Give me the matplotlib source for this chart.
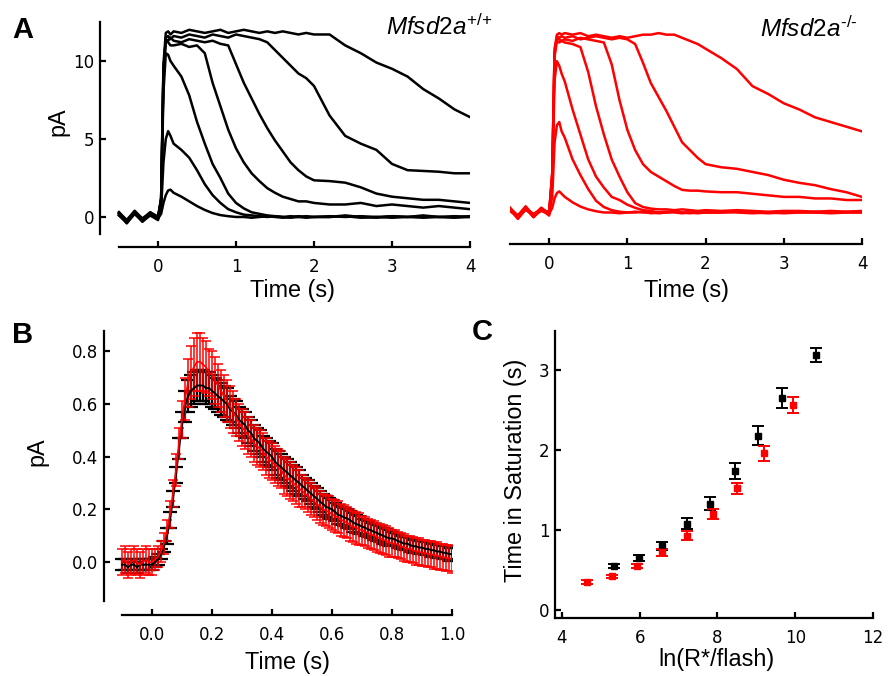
import matplotlib
matplotlib.use("Agg")
import matplotlib.pyplot as plt
import numpy as np

plt.rcParams['font.family'] = ['Liberation Sans', 'DejaVu Sans']
plt.rcParams['mathtext.fontset'] = 'custom'
plt.rcParams['mathtext.it'] = 'Liberation Sans:italic'
plt.rcParams['mathtext.rm'] = 'Liberation Sans'

# ---------------- Panel A: single-cell flash responses ----------------
t_a = [-0.5, -0.4, -0.3, -0.2, -0.1, 0.0, 0.04, 0.07, 0.1, 0.13, 0.16,
       0.2, 0.3, 0.4, 0.5, 0.6, 0.7, 0.8, 0.9, 1.0, 1.1, 1.2, 1.3, 1.4, 1.5,
       1.6, 1.7, 1.8, 1.9, 2.0, 2.2, 2.4, 2.6, 2.8, 3.0, 3.2, 3.4, 3.6, 3.8, 4.0]

wt_traces = [
    [0.2, -0.3, 0.3, -0.2, 0.2, -0.1, 0.2, 0.9, 1.4, 1.7, 1.75,
     1.55, 1.3, 1.0, 0.7, 0.45, 0.25, 0.12, 0.05, 0.0, 0.0, -0.05, 0.0, 0.05, 0.0,
     -0.05, 0.0, 0.05, 0.0, 0.0, 0.0, 0.05, -0.05, 0.0, 0.05, 0.0, -0.05, 0.0, 0.05, 0.0],
    [0.1, -0.4, 0.2, -0.3, 0.1, -0.2, 0.5, 3.5, 5.0, 5.5, 5.2,
     4.7, 4.3, 3.8, 3.0, 2.1, 1.4, 0.9, 0.5, 0.3, 0.15, 0.1, 0.05, 0.0, 0.05,
     0.0, -0.05, 0.0, 0.05, 0.0, 0.0, 0.1, 0.0, -0.05, 0.05, 0.0, 0.1, 0.0, -0.05, 0.0],
    [0.3, -0.2, 0.4, -0.1, 0.3, 0.0, 1.0, 8.0, 10.5, 10.4, 10.0,
     9.7, 9.0, 7.8, 6.1, 4.7, 3.4, 2.5, 1.5, 0.9, 0.55, 0.3, 0.2, 0.1, 0.05,
     0.0, 0.05, 0.0, -0.05, 0.0, 0.05, 0.0, 0.05, 0.0, -0.05, 0.0, 0.05, 0.0, 0.0, 0.05],
    [0.2, -0.2, 0.3, -0.3, 0.2, -0.1, 1.2, 9.5, 11.3, 11.2, 11.0,
     11.0, 11.1, 10.9, 11.0, 10.5, 8.6, 7.1, 5.6, 4.4, 3.5, 2.8, 2.3, 1.85, 1.55,
     1.3, 1.15, 1.0, 1.0, 0.9, 0.8, 0.8, 0.9, 0.7, 0.8, 0.7, 0.6, 0.7, 0.6, 0.5],
    [0.1, -0.3, 0.2, -0.2, 0.3, 0.0, 1.0, 9.0, 11.4, 11.3, 11.5,
     11.3, 11.2, 11.4, 11.3, 11.2, 11.3, 11.1, 11.0, 9.8, 8.6, 7.6, 6.6, 5.7, 4.9,
     4.2, 3.5, 3.0, 2.6, 2.35, 2.3, 2.2, 1.9, 1.5, 1.3, 1.2, 1.1, 1.1, 1.0, 0.9],
    [0.2, -0.4, 0.3, -0.2, 0.1, -0.1, 1.1, 9.3, 11.5, 11.6, 11.4,
     11.6, 11.5, 11.7, 11.6, 11.5, 11.7, 11.6, 11.5, 11.7, 11.6, 11.5, 11.4, 11.2, 10.7,
     10.2, 9.7, 9.2, 8.9, 8.4, 6.5, 5.2, 4.7, 4.3, 3.4, 3.0, 2.95, 2.9, 2.8, 2.8],
    [0.3, -0.3, 0.2, -0.1, 0.2, 0.0, 1.2, 9.8, 11.8, 11.9, 11.7,
     11.9, 11.8, 12.0, 11.9, 11.8, 11.9, 12.0, 11.8, 11.9, 12.0, 11.9, 11.8, 11.9, 11.8,
     11.9, 11.8, 11.7, 11.8, 11.7, 11.7, 11.0, 10.5, 9.9, 9.5, 9.0, 8.2, 7.6, 6.9, 6.4],
]

ko_traces = [
    [0.2, -0.3, 0.2, -0.2, 0.3, -0.1, 0.3, 0.9, 1.25, 1.35, 1.2,
     1.0, 0.65, 0.38, 0.2, 0.08, 0.0, 0.0, -0.05, 0.0, 0.0, 0.05, -0.05, 0.0, 0.0,
     0.05, 0.0, -0.05, 0.0, 0.0, 0.05, 0.0, -0.05, 0.0, 0.05, 0.0, 0.0, -0.05, 0.0, 0.05],
    [0.1, -0.2, 0.3, -0.3, 0.2, 0.0, 1.0, 4.5, 5.6, 5.8, 5.2,
     4.8, 3.4, 2.4, 1.5, 0.75, 0.35, 0.15, 0.05, 0.0, 0.05, 0.0, 0.0, -0.05, 0.0,
     0.05, 0.0, 0.0, -0.05, 0.0, 0.0, 0.05, 0.0, 0.0, -0.05, 0.0, 0.05, 0.0, 0.0, 0.0],
    [0.3, -0.4, 0.2, -0.1, 0.2, -0.2, 2.0, 8.5, 9.7, 9.4, 8.9,
     8.4, 6.6, 5.0, 3.4, 2.3, 1.6, 1.0, 0.8, 0.5, 0.3, 0.15, 0.1, 0.0, 0.05,
     0.0, -0.05, 0.0, 0.05, 0.0, 0.0, 0.05, 0.0, -0.05, 0.0, 0.05, 0.0, 0.0, 0.05, 0.0],
    [0.2, -0.2, 0.4, -0.2, 0.1, -0.1, 2.5, 10.0, 11.0, 10.9, 11.0,
     10.9, 10.8, 10.6, 9.0, 6.8, 5.0, 3.4, 2.3, 1.3, 0.6, 0.35, 0.25, 0.2, 0.2,
     0.15, 0.2, 0.15, 0.1, 0.15, 0.1, 0.15, 0.1, 0.05, 0.1, 0.1, 0.05, 0.1, 0.05, 0.1],
    [0.1, -0.3, 0.3, -0.3, 0.2, 0.0, 2.2, 10.2, 11.2, 11.1, 11.0,
     11.1, 11.0, 11.2, 11.1, 11.0, 10.9, 9.5, 7.2, 5.3, 4.0, 3.1, 2.6, 2.3, 2.0,
     1.7, 1.45, 1.4, 1.4, 1.35, 1.3, 1.3, 1.2, 1.1, 1.0, 1.0, 0.9, 0.9, 0.8, 0.8],
    [0.2, -0.4, 0.2, -0.2, 0.3, -0.1, 2.4, 10.3, 11.3, 11.2, 11.3,
     11.2, 11.3, 11.1, 11.2, 11.3, 11.2, 11.1, 11.2, 11.1, 10.8, 9.6, 8.3, 7.4, 6.5,
     5.5, 4.5, 4.0, 3.5, 3.1, 2.9, 2.8, 2.6, 2.4, 2.1, 1.9, 1.75, 1.5, 1.3, 1.0],
    [0.3, -0.2, 0.3, -0.1, 0.2, 0.0, 2.6, 10.5, 11.4, 11.5, 11.4,
     11.5, 11.4, 11.5, 11.3, 11.4, 11.3, 11.2, 11.3, 11.2, 11.3, 11.4, 11.4, 11.5, 11.4,
     11.4, 11.2, 11.0, 10.8, 10.5, 9.9, 9.2, 8.1, 7.6, 7.0, 6.6, 6.1, 5.8, 5.5, 5.2],
]

# ---------------- Panel B: mean dim-flash responses ----------------
t_b = np.round(np.arange(-0.10, 1.0001, 0.01), 2)

wt_mean = [
    -0.01, -0.01, -0.02, -0.01, -0.01, -0.02, -0.01, -0.01, -0.01, -0.01,
    -0.01, 0.00, 0.01, 0.03, 0.06, 0.10, 0.16, 0.24, 0.33, 0.43,
    0.52, 0.59, 0.63, 0.65, 0.66, 0.67, 0.67, 0.67, 0.66, 0.66,
    0.65, 0.64, 0.63, 0.62, 0.61, 0.60, 0.58, 0.57, 0.56, 0.54,
    0.53, 0.52, 0.50, 0.49, 0.47, 0.46, 0.45, 0.43, 0.42, 0.41,
    0.40, 0.38, 0.37, 0.36, 0.35, 0.34, 0.33, 0.32, 0.31, 0.30,
    0.29, 0.28, 0.27, 0.26, 0.25, 0.24, 0.23, 0.22, 0.21, 0.205,
    0.20, 0.19, 0.18, 0.175, 0.17, 0.165, 0.16, 0.15, 0.145, 0.14,
    0.135, 0.13, 0.125, 0.12, 0.115, 0.11, 0.105, 0.10, 0.095, 0.09,
    0.09, 0.085, 0.08, 0.075, 0.07, 0.07, 0.065, 0.06, 0.06, 0.055,
    0.055, 0.05, 0.05, 0.045, 0.045, 0.04, 0.04, 0.035, 0.035, 0.03,
    0.03,
]
wt_sem = [
    0.02, 0.02, 0.02, 0.02, 0.02, 0.02, 0.02, 0.02, 0.02, 0.02,
    0.02, 0.02, 0.02, 0.02, 0.02, 0.03, 0.03, 0.03, 0.03, 0.04,
    0.05, 0.06, 0.06, 0.06, 0.06, 0.06, 0.06, 0.06, 0.06, 0.06,
    0.06, 0.06, 0.06, 0.06, 0.06, 0.06, 0.05, 0.05, 0.05, 0.05,
    0.05, 0.05, 0.05, 0.05, 0.05, 0.05, 0.05, 0.05, 0.05, 0.05,
    0.05, 0.05, 0.05, 0.05, 0.05, 0.05, 0.05, 0.05, 0.05, 0.05,
    0.04, 0.04, 0.04, 0.04, 0.04, 0.04, 0.04, 0.04, 0.04, 0.04,
    0.035, 0.035, 0.035, 0.035, 0.035, 0.035, 0.035, 0.035, 0.035, 0.035,
    0.03, 0.03, 0.03, 0.03, 0.03, 0.03, 0.03, 0.03, 0.03, 0.03,
    0.025, 0.025, 0.025, 0.025, 0.025, 0.025, 0.025, 0.025, 0.025, 0.025,
    0.025, 0.025, 0.025, 0.025, 0.025, 0.025, 0.025, 0.025, 0.025, 0.025,
    0.025,
]
ko_mean = [
    0.00, 0.01, -0.01, 0.00, 0.01, 0.00, -0.01, 0.00, 0.01, 0.00,
    0.00, 0.01, 0.02, 0.04, 0.07, 0.12, 0.18, 0.26, 0.35, 0.45,
    0.54, 0.62, 0.68, 0.72, 0.74, 0.76, 0.76, 0.75, 0.74, 0.72,
    0.71, 0.69, 0.67, 0.65, 0.63, 0.61, 0.59, 0.57, 0.55, 0.53,
    0.51, 0.50, 0.48, 0.47, 0.45, 0.44, 0.43, 0.42, 0.40, 0.39,
    0.38, 0.37, 0.36, 0.35, 0.33, 0.32, 0.31, 0.30, 0.29, 0.28,
    0.27, 0.26, 0.25, 0.24, 0.23, 0.22, 0.21, 0.20, 0.195, 0.19,
    0.18, 0.175, 0.17, 0.16, 0.155, 0.15, 0.14, 0.135, 0.13, 0.125,
    0.12, 0.115, 0.11, 0.105, 0.10, 0.095, 0.09, 0.085, 0.08, 0.075,
    0.07, 0.07, 0.065, 0.06, 0.055, 0.05, 0.05, 0.045, 0.04, 0.04,
    0.035, 0.035, 0.03, 0.03, 0.025, 0.025, 0.02, 0.02, 0.015, 0.015,
    0.01,
]
ko_sem = [
    0.05, 0.05, 0.05, 0.05, 0.05, 0.05, 0.05, 0.05, 0.05, 0.05,
    0.05, 0.04, 0.04, 0.04, 0.04, 0.04, 0.05, 0.05, 0.06, 0.06,
    0.07, 0.08, 0.09, 0.10, 0.11, 0.11, 0.11, 0.10, 0.10, 0.09,
    0.09, 0.09, 0.08, 0.08, 0.08, 0.08, 0.08, 0.08, 0.07, 0.07,
    0.07, 0.07, 0.07, 0.07, 0.07, 0.07, 0.07, 0.07, 0.07, 0.07,
    0.07, 0.07, 0.07, 0.07, 0.07, 0.07, 0.07, 0.07, 0.07, 0.07,
    0.06, 0.06, 0.06, 0.06, 0.06, 0.06, 0.06, 0.06, 0.06, 0.06,
    0.06, 0.06, 0.06, 0.06, 0.06, 0.06, 0.06, 0.06, 0.06, 0.06,
    0.055, 0.055, 0.055, 0.055, 0.055, 0.055, 0.055, 0.055, 0.055, 0.055,
    0.05, 0.05, 0.05, 0.05, 0.05, 0.05, 0.05, 0.05, 0.05, 0.05,
    0.05, 0.05, 0.05, 0.05, 0.05, 0.05, 0.05, 0.05, 0.05, 0.05,
    0.05,
]

# ---------------- Panel C: time in saturation ----------------
wt_lnR = [5.33, 5.97, 6.57, 7.21, 7.81, 8.45, 9.05, 9.67, 10.53]
wt_tsat = [0.55, 0.65, 0.80, 1.08, 1.33, 1.74, 2.18, 2.65, 3.19]
wt_tsat_err = [0.02, 0.04, 0.05, 0.07, 0.08, 0.10, 0.12, 0.125, 0.09]
ko_lnR = [4.64, 5.28, 5.92, 6.57, 7.21, 7.89, 8.49, 9.19, 9.93]
ko_tsat = [0.35, 0.42, 0.55, 0.72, 0.93, 1.20, 1.52, 1.96, 2.56]
ko_tsat_err = [0.02, 0.02, 0.03, 0.04, 0.06, 0.06, 0.07, 0.09, 0.10]

W, H = 896, 676
fig = plt.figure(figsize=(W / 100, H / 100), dpi=100)
LABEL_FS = 16.8
RED = '#ff0000'


def px_axes(x0, y0, x1, y1):
    # axes from a pixel box (top-left origin)
    return fig.add_axes([x0 / W, 1 - y1 / H, (x1 - x0) / W, (y1 - y0) / H])


def style(ax):
    for s in ['top', 'right']:
        ax.spines[s].set_visible(False)
    for s in ['left', 'bottom']:
        ax.spines[s].set_linewidth(1.6)
    ax.tick_params(direction='in', length=4, width=1.6, labelsize=12, pad=4)
    for lab in ax.get_xticklabels() + ax.get_yticklabels():
        lab.set_family('DejaVu Sans')


# A left
axA1 = px_axes(99.5, 22, 470, 246.6)
for tr in wt_traces:
    axA1.plot(t_a, tr, color='black', lw=1.8)
axA1.set_xlim(-0.75, 4.0)
axA1.set_ylim(-1.9, 12.5)
axA1.set_xticks([0, 1, 2, 3, 4])
axA1.set_yticks([0, 5, 10])
style(axA1)
axA1.tick_params(axis='x', pad=8)
axA1.spines['bottom'].set_bounds(-0.5, 4.0)
axA1.spines['left'].set_bounds(-1.1, 12.5)
axA1.set_xlabel('Time (s)', fontsize=LABEL_FS, va='top')
axA1.xaxis.set_label_coords(0.522, -0.145)
axA1.set_ylabel('pA', fontsize=LABEL_FS)
axA1.yaxis.set_label_coords(-0.08, 0.555)

# A right
axA2 = px_axes(510, 17.5, 862, 244)
for tr in ko_traces:
    axA2.plot(t_a, tr, color=RED, lw=1.8)
axA2.set_xlim(-0.5, 4.0)
axA2.set_ylim(-2.02, 12.5)
axA2.set_yticks([])
axA2.set_xticks([0, 1, 2, 3, 4])
style(axA2)
axA2.tick_params(axis='x', pad=8)
axA2.spines['left'].set_visible(False)
axA2.set_xlabel('Time (s)', fontsize=LABEL_FS, va='top')
axA2.xaxis.set_label_coords(0.5, -0.155)

# B
axB = px_axes(104, 331, 452, 615)
axB.errorbar(t_b, wt_mean, yerr=wt_sem, color='black', lw=1.4,
             elinewidth=1.6, capsize=5, capthick=1.6)
axB.errorbar(t_b, ko_mean, yerr=ko_sem, color=RED, lw=1.2,
             elinewidth=1.1, capsize=3.8, capthick=1.1)
axB.set_xlim(-0.16, 1.0)
axB.set_ylim(-0.201, 0.877)
axB.set_xticks([0.0, 0.2, 0.4, 0.6, 0.8, 1.0])
axB.set_xticklabels(['0.0', '0.2', '0.4', '0.6', '0.8', '1.0'])
axB.set_yticks([0.0, 0.2, 0.4, 0.6, 0.8])
axB.set_yticklabels(['0.0', '0.2', '0.4', '0.6', '0.8'])
style(axB)
axB.tick_params(axis='x', pad=8)
axB.spines['bottom'].set_bounds(-0.1, 1.0)
axB.spines['left'].set_bounds(-0.148, 0.877)
axB.set_xlabel('Time (s)', fontsize=LABEL_FS, va='top')
axB.xaxis.set_label_coords(0.526, -0.125)
axB.set_ylabel('pA', fontsize=LABEL_FS)
axB.yaxis.set_label_coords(-0.161, 0.574)

# C
axC = px_axes(555, 331, 873, 618)
axC.errorbar(wt_lnR, wt_tsat, yerr=wt_tsat_err, fmt='s', color='black',
             ms=4, elinewidth=1.4, capsize=4.5, capthick=1.4)
axC.errorbar(ko_lnR, ko_tsat, yerr=ko_tsat_err, fmt='s', color=RED,
             ms=4, elinewidth=1.4, capsize=4.5, capthick=1.4)
axC.set_xlim(3.82, 12.0)
axC.set_ylim(-0.1, 3.49)
axC.set_xticks([4, 6, 8, 10, 12])
axC.set_yticks([0, 1, 2, 3])
style(axC)
axC.tick_params(axis='x', pad=8)
axC.set_xlabel('ln(R*/flash)', fontsize=LABEL_FS, va='top')
axC.xaxis.set_label_coords(0.509, -0.105)
axC.set_ylabel('Time in Saturation (s)', fontsize=LABEL_FS)
axC.yaxis.set_label_coords(-0.088, 0.516)

# genotype labels
fig.text(386 / W, 1 - 27 / H, r'$Mfsd2a^{\text{+/+}}$', fontsize=17.5,
         ha='left', va='center')
fig.text(760 / W, 1 - 29 / H, r'$Mfsd2a^{\text{-/-}}$', fontsize=17.5,
         ha='left', va='center')

# panel letters
fig.text(12 / W, 1 - 30 / H, 'A', fontsize=21, fontweight='bold', va='center')
fig.text(12 / W, 1 - 335 / H, 'B', fontsize=21, fontweight='bold', va='center')
fig.text(472 / W, 1 - 332 / H, 'C', fontsize=21, fontweight='bold', va='center')

fig.savefig('out.png', dpi=100)
